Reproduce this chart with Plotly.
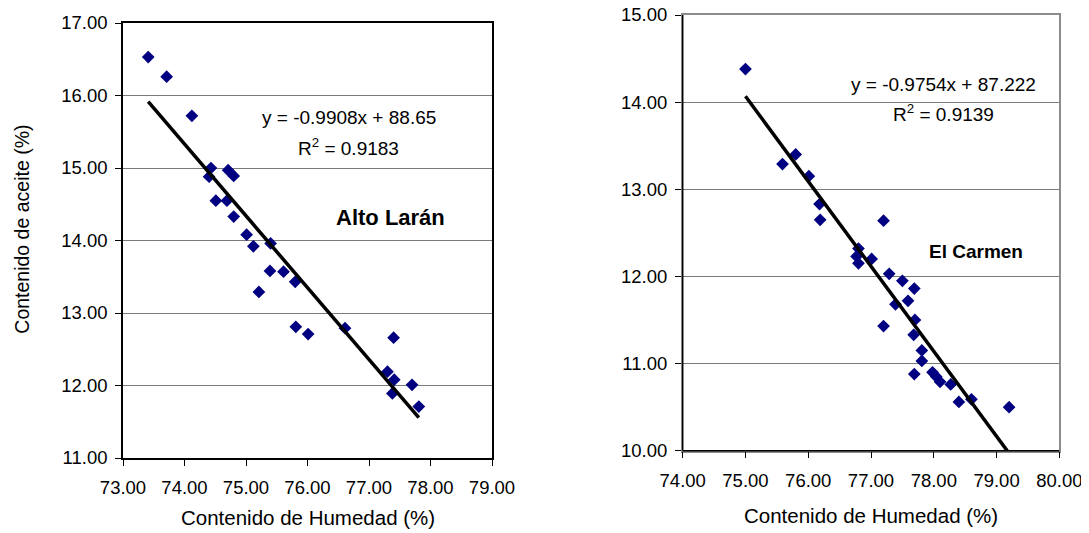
import plotly.graph_objects as go
import numpy as np

# ---------------- data ----------------
alto_humedad = [73.41, 73.71, 74.12, 74.43, 74.40, 74.71, 74.80, 74.51, 74.69, 74.80,
                75.01, 75.12, 75.40, 75.39, 75.61, 75.80, 75.21, 75.81, 76.01, 76.61,
                77.40, 77.30, 77.41, 77.38, 77.70, 77.81]
alto_aceite = [16.53, 16.26, 15.72, 15.00, 14.88, 14.97, 14.89, 14.55, 14.55, 14.33,
               14.08, 13.92, 13.96, 13.58, 13.57, 13.43, 13.29, 12.81, 12.71, 12.79,
               12.66, 12.19, 12.08, 11.89, 12.01, 11.71]
alto_fit = [-0.9908, 88.65]   # slope, intercept
alto_r2 = "0.9183"

carmen_humedad = [75.00, 75.59, 75.80, 76.01, 76.18, 76.19, 77.20, 76.80, 76.77, 76.80,
                  77.01, 77.29, 77.50, 77.69, 77.39, 77.59, 77.70, 77.20, 77.68, 77.81,
                  77.81, 77.69, 77.98, 78.04, 78.10, 78.27, 78.40, 78.60, 79.20]
carmen_aceite = [14.38, 13.29, 13.40, 13.15, 12.83, 12.65, 12.64, 12.32, 12.23, 12.15,
                 12.20, 12.03, 11.95, 11.86, 11.68, 11.72, 11.50, 11.43, 11.33, 11.15,
                 11.03, 10.88, 10.90, 10.85, 10.79, 10.76, 10.56, 10.59, 10.50]
carmen_fit = [-0.9754, 87.222]
carmen_r2 = "0.9139"

left_xticks = [73, 74, 75, 76, 77, 78, 79]
left_yticks = [11, 12, 13, 14, 15, 16, 17]
right_xticks = [74, 75, 76, 77, 78, 79, 80]
right_yticks = [10, 11, 12, 13, 14, 15]

W, H = 1089, 533
OFF = 8  # page body margin
FONT = "Liberation Sans, Arial, sans-serif"
NAVY = "#000080"
GRID = "#7a7a7a"

def px(x):
    return (x - OFF) / W

def py(y):
    return 1 - (y - OFF) / H

fig = go.Figure()

def trend(xs, fit):
    xx = np.array([min(xs), max(xs)])
    return xx, fit[0] * xx + fit[1]

# left panel
fig.add_trace(go.Scatter(x=alto_humedad, y=alto_aceite, mode="markers",
                         marker=dict(symbol="diamond", size=9.8, color=NAVY),
                         xaxis="x", yaxis="y", showlegend=False))
tx, ty = trend(alto_humedad, alto_fit)
fig.add_trace(go.Scatter(x=tx, y=ty, mode="lines", line=dict(color="black", width=3.5),
                         xaxis="x", yaxis="y", showlegend=False))

# right panel
fig.add_trace(go.Scatter(x=carmen_humedad, y=carmen_aceite, mode="markers",
                         marker=dict(symbol="diamond", size=9.8, color=NAVY),
                         xaxis="x2", yaxis="y2", showlegend=False))
tx2, ty2 = trend(carmen_humedad, carmen_fit)
fig.add_trace(go.Scatter(x=tx2, y=ty2, mode="lines", line=dict(color="black", width=3.5),
                         xaxis="x2", yaxis="y2", showlegend=False))

tickfont = dict(family=FONT, size=18.5, color="black")

common_x = dict(ticks="outside", ticklen=6, tickcolor="black", tickwidth=1,
                showgrid=False, zeroline=False, tickformat=".2f", tickfont=tickfont,
                showline=True, linewidth=1.5, fixedrange=True, ticklabelstandoff=6,
                automargin=False, ticklabeloverflow="allow")
common_y = dict(ticks="outside", ticklen=6, tickcolor="black", tickwidth=1,
                showgrid=True, gridcolor=GRID, gridwidth=1, zeroline=False,
                tickformat=".2f", tickfont=tickfont, showline=True, linewidth=1.5,
                fixedrange=True, ticklabelstandoff=4, automargin=False,
                ticklabeloverflow="allow")

fig.update_layout(
    width=W, height=H,
    margin=dict(l=0, r=0, t=0, b=0, autoexpand=False),
    paper_bgcolor="white", plot_bgcolor="white",
    font=dict(family=FONT, color="black"),
    xaxis=dict(domain=[px(123), px(492)], range=[73, 79], tickvals=left_xticks,
               anchor="y", linecolor="black", mirror=True, **common_x),
    yaxis=dict(domain=[py(458), py(23)], range=[11, 17], tickvals=left_yticks,
               anchor="x", linecolor="black", mirror=True, **common_y),
    xaxis2=dict(domain=[px(682.7), px(1059.3)], range=[74, 80], tickvals=right_xticks,
                anchor="y2", linecolor="#8c8c8c", mirror=True, **common_x),
    yaxis2=dict(domain=[py(450.7), py(15)], range=[10, 15], tickvals=right_yticks,
                anchor="x2", linecolor="#8c8c8c", mirror=True, **common_y),
)

# dark left/bottom axis lines on right panel (frame top/right stays gray)
fig.add_shape(type="line", xref="x2 domain", yref="y2 domain", x0=0, x1=0, y0=0, y1=1,
              line=dict(color="black", width=1.5), layer="above")
fig.add_shape(type="line", xref="x2 domain", yref="y2 domain", x0=0, x1=1, y0=0, y1=0,
              line=dict(color="black", width=1.5), layer="above")

eqfont = dict(family=FONT, size=19, color="black")

def eq_text(fit):
    s = f"{fit[0]:.4f}".rstrip("0")
    b = f"{fit[1]}"
    return f"y = {s}x + {b}"

annotations = [
    dict(x=76.67, y=15.69, xref="x", yref="y", text=eq_text(alto_fit), showarrow=False,
         font=eqfont, xanchor="center", yanchor="middle"),
    dict(x=76.67, y=15.29, xref="x", yref="y", text=f"R<sup>2</sup> = {alto_r2}",
         showarrow=False, font=eqfont, xanchor="center", yanchor="middle"),
    dict(x=77.35, y=14.32, xref="x", yref="y", text="<b>Alto Larán</b>", showarrow=False,
         font=dict(family=FONT, size=22, color="black"), xanchor="center", yanchor="middle"),
    dict(x=78.15, y=14.20, xref="x2", yref="y2", text=eq_text(carmen_fit), showarrow=False,
         font=eqfont, xanchor="center", yanchor="middle"),
    dict(x=78.15, y=13.87, xref="x2", yref="y2", text=f"R<sup>2</sup> = {carmen_r2}",
         showarrow=False, font=eqfont, xanchor="center", yanchor="middle"),
    dict(x=78.68, y=12.29, xref="x2", yref="y2", text="<b>El Carmen</b>", showarrow=False,
         font=dict(family=FONT, size=19, color="black"), xanchor="center", yanchor="middle"),
    # axis titles
    dict(x=px(307.5), y=py(517), xref="paper", yref="paper", text="Contenido de Humedad (%)",
         showarrow=False, font=dict(family=FONT, size=20.5, color="black"),
         xanchor="center", yanchor="middle"),
    dict(x=px(870.5), y=py(515), xref="paper", yref="paper", text="Contenido de Humedad (%)",
         showarrow=False, font=dict(family=FONT, size=20.5, color="black"),
         xanchor="center", yanchor="middle"),
    dict(x=px(21.7), y=py(229), xref="paper", yref="paper", text="Contenido de aceite (%)",
         showarrow=False, textangle=-90, font=dict(family=FONT, size=19.5, color="black"),
         xanchor="center", yanchor="middle"),
]
fig.update_layout(annotations=annotations)

fig.write_html("out.html")
